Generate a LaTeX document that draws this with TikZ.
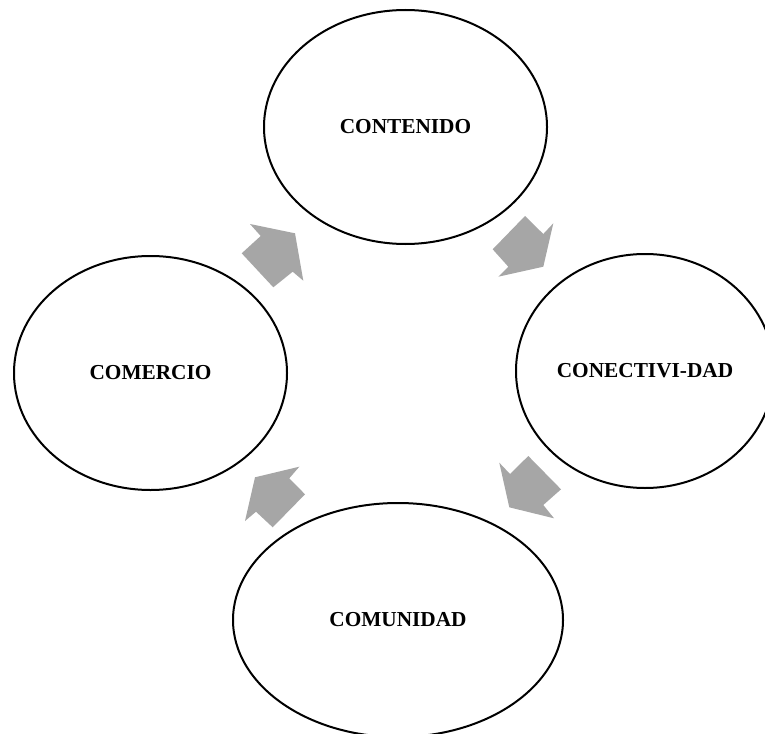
\documentclass[tikz,border=0pt]{standalone}
\usepackage{fontspec}
\setmainfont{Liberation Serif}
\usetikzlibrary{shapes.geometric}
\definecolor{arrowgray}{HTML}{A6A6A6}
\tikzset{
  bubble/.style={draw=black, line width=2pt, ellipse, inner sep=0pt, fill=white,
    font=\fontsize{21.3}{24}\selectfont\bfseries},
  blockarrow/.style={fill=arrowgray, draw=none}
}
\begin{document}
\begin{tikzpicture}[x=1pt,y=-1pt]
\useasboundingbox (0,0) rectangle (765,733);
\clip (0,0) rectangle (765,733);
\fill[white] (0,0) rectangle (765,733);
\node[bubble, minimum width=283pt, minimum height=234pt] (contenido) at (405.5,127) {CONTENIDO};
\node[bubble, minimum width=273pt, minimum height=234pt] (comercio) at (150.5,373) {COMERCIO};
\node[bubble, minimum width=258pt, minimum height=234pt] (conectividad) at (645,371) {CONECTIVI-DAD};
\node[bubble, minimum width=330pt, minimum height=234pt] (comunidad) at (398,620) {COMUNIDAD};
% comercio -> contenido
\fill[blockarrow] (250,224) -- (295,233.3) -- (303.3,280.7) -- (292.7,271.7) -- (273.3,287.3) -- (241.7,253.3) -- (260.7,236) -- cycle;
% contenido -> conectividad
\fill[blockarrow] (525,216) -- (543.3,234) -- (553.3,223.3) -- (543.3,266.7) -- (498.3,276.7) -- (508.3,266.7) -- (492.7,249.3) -- cycle;
% conectividad -> comunidad
\fill[blockarrow] (499.3,462.7) -- (510,474) -- (528.3,456) -- (561,489.3) -- (543.3,505) -- (554,518.3) -- (509.3,507.3) -- cycle;
% comunidad -> comercio
\fill[blockarrow] (255,477.3) -- (299.3,466.7) -- (289.3,478.3) -- (305,494.3) -- (272.7,527.3) -- (256,511.7) -- (245,521) -- cycle;
\end{tikzpicture}
\end{document}
